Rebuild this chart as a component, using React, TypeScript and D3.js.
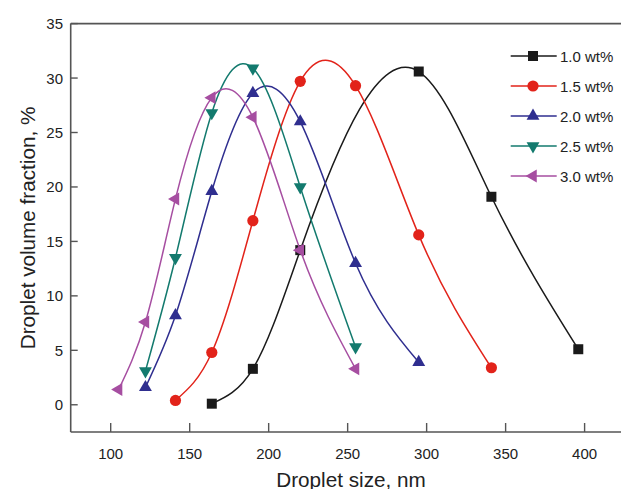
import React from "react";
import * as d3 from "d3";

const seriesNames = ["1.0 wt%", "1.5 wt%", "2.0 wt%", "2.5 wt%", "3.0 wt%"];
const colors = ["#1a1a1a", "#e2231a", "#2f2e8f", "#137a6e", "#a64ea1"];
const shapes = ["square", "circle", "up", "down", "left"];

const x10 = [164, 190, 220, 295, 341, 396];
const y10 = [0.1, 3.3, 14.2, 30.6, 19.1, 5.1];
const x15 = [141, 164, 190, 220, 255, 295, 341];
const y15 = [0.4, 4.8, 16.9, 29.7, 29.3, 15.6, 3.4];
const x20 = [122, 141, 164, 190, 220, 255, 295];
const y20 = [1.6, 8.2, 19.6, 28.6, 26.0, 13.0, 3.9];
const x25 = [122, 141, 164, 190, 220, 255];
const y25 = [3.1, 13.5, 26.8, 30.9, 20.0, 5.3];
const x30 = [105, 122, 141, 164, 190, 220, 255];
const y30 = [1.4, 7.6, 18.9, 28.2, 26.4, 14.2, 3.3];

const xTicks = [100, 150, 200, 250, 300, 350, 400];
const yTicks = [0, 5, 10, 15, 20, 25, 30, 35];

const W = 621;
const H = 489;
const left = 70.7;
const top = 23.6;
const bottom = 432;

const xs = [x10, x15, x20, x25, x30];
const ys = [y10, y15, y20, y25, y30];

// Custom d3 curve: natural cubic spline y(x), emitted as exact cubic Bezier segments.
function curveSplineX(context: any) {
  let px: number[] = [];
  let py: number[] = [];
  return {
    areaStart() {},
    areaEnd() {},
    lineStart() {
      px = [];
      py = [];
    },
    point(x: number, y: number) {
      px.push(+x);
      py.push(+y);
    },
    lineEnd() {
      const n = px.length;
      if (n === 0) return;
      context.moveTo(px[0], py[0]);
      if (n === 1) return;
      if (n === 2) {
        context.lineTo(px[1], py[1]);
        return;
      }
      const h: number[] = [];
      const d: number[] = [];
      for (let i = 0; i < n - 1; i++) {
        h[i] = px[i + 1] - px[i];
        d[i] = (py[i + 1] - py[i]) / h[i];
      }
      const a: number[] = new Array(n).fill(0);
      const b: number[] = new Array(n).fill(0);
      const c: number[] = new Array(n).fill(0);
      const r: number[] = new Array(n).fill(0);
      b[0] = 2;
      c[0] = 1;
      r[0] = 3 * d[0];
      for (let i = 1; i < n - 1; i++) {
        a[i] = h[i];
        b[i] = 2 * (h[i - 1] + h[i]);
        c[i] = h[i - 1];
        r[i] = 3 * (h[i] * d[i - 1] + h[i - 1] * d[i]);
      }
      a[n - 1] = 1;
      b[n - 1] = 2;
      r[n - 1] = 3 * d[n - 2];
      // Thomas algorithm
      const cp: number[] = [];
      const rp: number[] = [];
      cp[0] = c[0] / b[0];
      rp[0] = r[0] / b[0];
      for (let i = 1; i < n; i++) {
        const den = b[i] - a[i] * cp[i - 1];
        cp[i] = c[i] / den;
        rp[i] = (r[i] - a[i] * rp[i - 1]) / den;
      }
      const m: number[] = new Array(n).fill(0);
      m[n - 1] = rp[n - 1];
      for (let i = n - 2; i >= 0; i--) m[i] = rp[i] - cp[i] * m[i + 1];
      for (let i = 0; i < n - 1; i++) {
        const hh = h[i] / 3;
        context.bezierCurveTo(px[i] + hh, py[i] + m[i] * hh, px[i + 1] - hh, py[i + 1] - m[i + 1] * hh, px[i + 1], py[i + 1]);
      }
    },
  };
}

function Marker({ shape, color, cx, cy }: { shape: string; color: string; cx: number; cy: number }) {
  if (shape === "square") {
    const p = d3.symbol().type(d3.symbolSquare).size(100)();
    return <path d={p || ""} transform={`translate(${cx},${cy})`} fill={color} />;
  }
  if (shape === "circle") {
    const p = d3.symbol().type(d3.symbolCircle).size(Math.PI * 5.6 * 5.6)();
    return <path d={p || ""} transform={`translate(${cx},${cy})`} fill={color} />;
  }
  const p = d3.symbol().type(d3.symbolTriangle).size(72)();
  const rot = shape === "up" ? 0 : shape === "down" ? 180 : -90;
  return <path d={p || ""} transform={`translate(${cx},${cy}) rotate(${rot})`} fill={color} />;
}

export default function App() {
  const x = d3.scaleLinear().domain([100, 400]).range([110.7, 584.6]);
  const y = d3.scaleLinear().domain([-2.5, 35]).range([bottom, top]);
  const line = d3
    .line<[number, number]>()
    .x((d) => x(d[0]))
    .y((d) => y(d[1]))
    .curve(curveSplineX as any);

  const font = "'Liberation Sans', Arial, sans-serif";
  const axisColor = "#555";
  const legendY = [56, 86, 116, 146, 176];

  return (
    <svg width={W} height={H} style={{ position: "absolute", left: 0, top: 0, background: "#fff" }} fontFamily={font}>
      <rect width={W} height={H} fill="#fff" />
      {xs.map((xv, i) => {
        const pts = xv.map((v, j) => [v, ys[i][j]] as [number, number]);
        return (
          <g key={i}>
            <path d={line(pts) || ""} fill="none" stroke={colors[i]} strokeWidth={1.5} />
            {pts.map((p, j) => (
              <Marker key={j} shape={shapes[i]} color={colors[i]} cx={x(p[0])} cy={y(p[1])} />
            ))}
          </g>
        );
      })}
      <line x1={left} x2={W} y1={top} y2={top} stroke={axisColor} strokeWidth={1.6} />
      <line x1={left} x2={W} y1={bottom} y2={bottom} stroke={axisColor} strokeWidth={1.6} />
      <line x1={left} x2={left} y1={top} y2={bottom} stroke={axisColor} strokeWidth={1.6} />
      {xTicks.map((t) => (
        <g key={t}>
          <line x1={x(t)} x2={x(t)} y1={bottom} y2={bottom - 9} stroke={axisColor} strokeWidth={1.4} />
          <text x={x(t)} y={459} textAnchor="middle" fontSize={15} fill="#222">
            {t}
          </text>
        </g>
      ))}
      {yTicks.map((t) => (
        <g key={t}>
          <line x1={left} x2={left + 7} y1={y(t)} y2={y(t)} stroke={axisColor} strokeWidth={1.4} />
          <text x={63} y={y(t)} textAnchor="end" dominantBaseline="central" fontSize={15} fill="#222">
            {t}
          </text>
        </g>
      ))}
      <text x={351} y={487} textAnchor="middle" fontSize={20.7} fill="#222">
        Droplet size, nm
      </text>
      <text transform={`translate(35,228) rotate(-90)`} textAnchor="middle" fontSize={20.7} fill="#222">
        Droplet volume fraction, %
      </text>
      {seriesNames.map((n, i) => (
        <g key={n}>
          <line x1={510.7} x2={556.7} y1={legendY[i]} y2={legendY[i]} stroke={colors[i]} strokeWidth={1.5} />
          <Marker shape={shapes[i]} color={colors[i]} cx={533} cy={legendY[i]} />
          <text x={560} y={legendY[i]} dominantBaseline="central" fontSize={15} fill="#222">
            {n}
          </text>
        </g>
      ))}
    </svg>
  );
}
